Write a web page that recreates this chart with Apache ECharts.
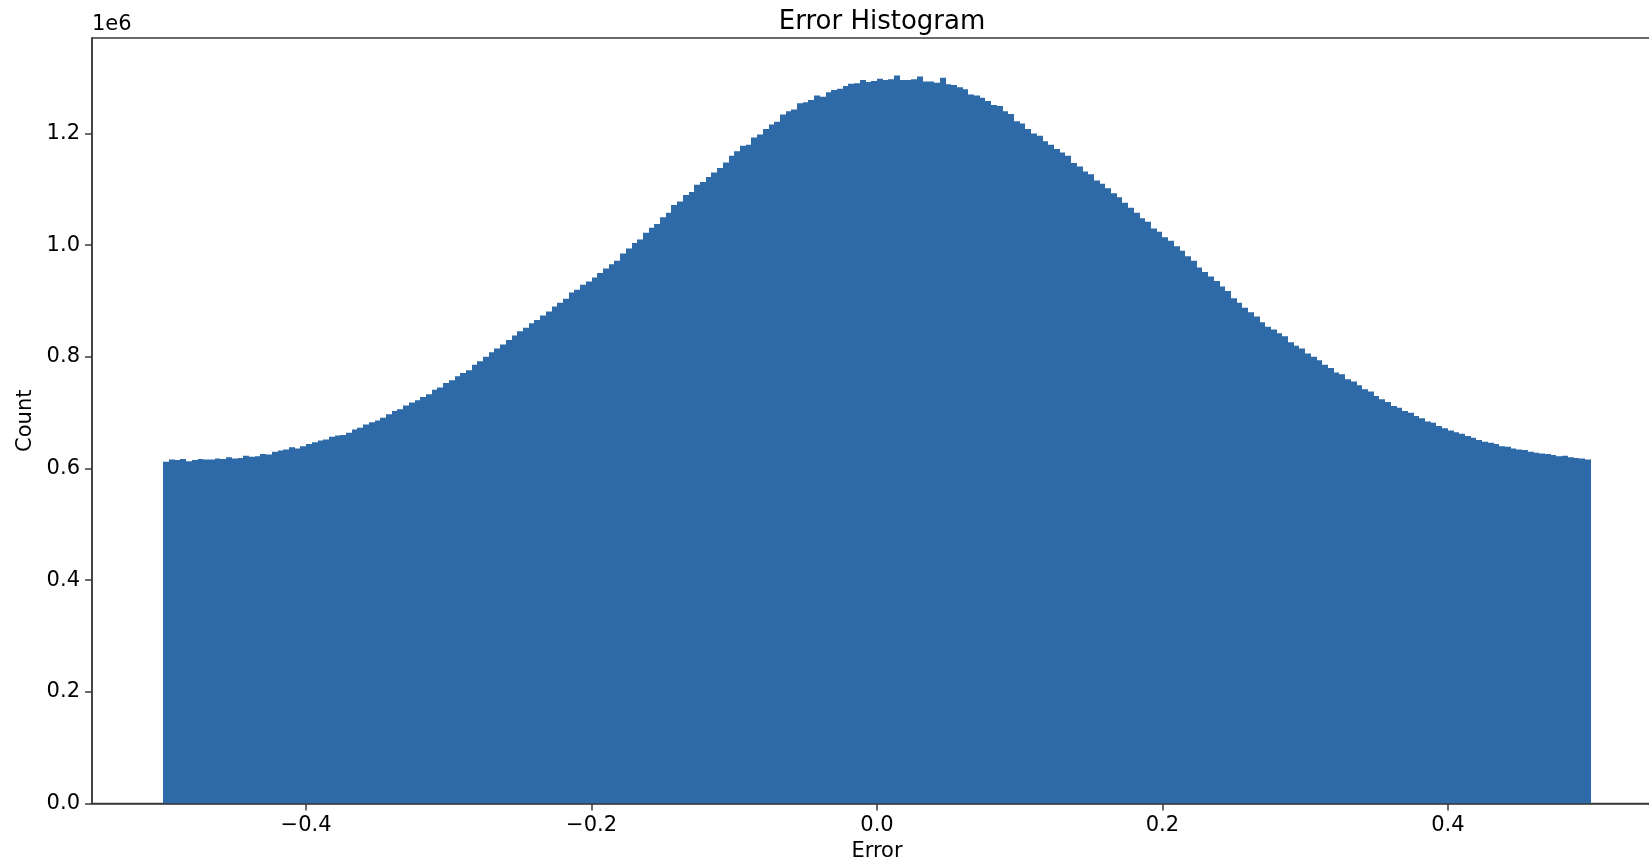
<!DOCTYPE html>
<html>
<head>
<meta charset="utf-8">
<title>Error Histogram</title>
<script src="https://cdn.jsdelivr.net/npm/echarts@6/dist/echarts.min.js"></script>
<style>
  html, body { margin: 0; padding: 0; background: #fff; }
  #chart { width: 1649px; height: 859px; }
</style>
</head>
<body>
<div id="chart"></div>
<script>
// 误差直方图 (counts in millions)
var binStart = -0.5;
var binWidth = 0.004;
var countMillions = [
  0.612, 0.616, 0.615, 0.617, 0.613, 0.615, 0.617, 0.616, 0.616, 0.618,
  0.617, 0.620, 0.618, 0.619, 0.623, 0.621, 0.622, 0.626, 0.625, 0.630,
  0.632, 0.634, 0.638, 0.636, 0.640, 0.644, 0.647, 0.650, 0.652, 0.657,
  0.659, 0.660, 0.664, 0.670, 0.673, 0.679, 0.683, 0.686, 0.691, 0.697,
  0.703, 0.706, 0.713, 0.718, 0.722, 0.728, 0.733, 0.741, 0.745, 0.753,
  0.758, 0.765, 0.771, 0.776, 0.786, 0.792, 0.800, 0.808, 0.815, 0.822,
  0.830, 0.838, 0.846, 0.852, 0.860, 0.866, 0.874, 0.881, 0.890, 0.897,
  0.904, 0.915, 0.920, 0.929, 0.935, 0.942, 0.950, 0.958, 0.966, 0.972,
  0.985, 0.994, 1.004, 1.010, 1.022, 1.031, 1.038, 1.050, 1.058, 1.072,
  1.078, 1.090, 1.095, 1.108, 1.113, 1.122, 1.130, 1.138, 1.148, 1.160,
  1.168, 1.178, 1.180, 1.193, 1.198, 1.208, 1.216, 1.221, 1.234, 1.240,
  1.243, 1.254, 1.256, 1.260, 1.268, 1.266, 1.274, 1.278, 1.280, 1.285,
  1.289, 1.290, 1.296, 1.292, 1.294, 1.298, 1.296, 1.297, 1.304, 1.296,
  1.296, 1.297, 1.302, 1.293, 1.293, 1.291, 1.300, 1.288, 1.287, 1.283,
  1.279, 1.270, 1.268, 1.264, 1.258, 1.251, 1.249, 1.240, 1.235, 1.222,
  1.218, 1.208, 1.200, 1.196, 1.186, 1.180, 1.172, 1.166, 1.160, 1.147,
  1.141, 1.132, 1.127, 1.116, 1.110, 1.102, 1.093, 1.086, 1.076, 1.067,
  1.058, 1.048, 1.042, 1.030, 1.024, 1.014, 1.008, 0.998, 0.990, 0.980,
  0.972, 0.960, 0.952, 0.944, 0.936, 0.926, 0.918, 0.905, 0.897, 0.888,
  0.880, 0.872, 0.862, 0.854, 0.849, 0.842, 0.837, 0.826, 0.820, 0.815,
  0.806, 0.800, 0.794, 0.786, 0.780, 0.772, 0.769, 0.760, 0.756, 0.749,
  0.742, 0.738, 0.730, 0.724, 0.719, 0.712, 0.709, 0.703, 0.700, 0.694,
  0.690, 0.684, 0.682, 0.676, 0.672, 0.668, 0.665, 0.662, 0.658, 0.655,
  0.651, 0.648, 0.646, 0.644, 0.640, 0.639, 0.636, 0.634, 0.633, 0.630,
  0.628, 0.627, 0.626, 0.624, 0.622, 0.623, 0.620, 0.619, 0.618, 0.616
];
var xTicks = [-0.4, -0.2, 0.0, 0.2, 0.4];
var yTicks = [0.0, 0.2, 0.4, 0.6, 0.8, 1.0, 1.2];

var barColor = '#2d6aa7';
var axisColor = '#3a3a3a';
var font = '"DejaVu Sans", sans-serif';

var binData = [];
for (var i = 0; i < countMillions.length; i++) {
    var lo = binStart + binWidth * i;
    binData.push([lo, lo + binWidth, countMillions[i]]);
}

var myChart = echarts.init(document.getElementById('chart'), null, {renderer: 'canvas'});

var option = {
    backgroundColor: '#fff',
    animation: false,
    textStyle: {fontFamily: font, color: '#000'},
    title: {
        text: 'Error Histogram',
        left: 877, top: 4, textAlign: 'center',
        textStyle: {fontFamily: font, fontSize: 26, fontWeight: 'normal', color: '#000'}
    },
    graphic: [{
        type: 'text', left: 92, top: 14,
        style: {text: '1e6', fontFamily: font, fontSize: 21, fill: '#000'}
    }],
    grid: {
        left: 92, top: 38, width: 1570, height: 765.5,
        outerBoundsMode: 'none', containLabel: false,
        show: true, borderColor: axisColor, borderWidth: 1.5, backgroundColor: 'transparent'
    },
    xAxis: {
        type: 'value', min: -0.55, max: 0.55,
        name: 'Error', nameLocation: 'middle', nameGap: 34,
        nameTextStyle: {fontFamily: font, fontSize: 21, color: '#000'},
        axisLine: {show: true, onZero: false, lineStyle: {color: axisColor, width: 1.5}},
        axisTick: {show: true, customValues: xTicks, length: 7, lineStyle: {color: axisColor, width: 1.5}},
        axisLabel: {
            customValues: xTicks, margin: 12, fontFamily: font, fontSize: 21, color: '#000',
            formatter: function (v) { return v.toFixed(1).replace('-', '\u2212'); }
        },
        splitLine: {show: false}
    },
    yAxis: {
        type: 'value', min: 0, max: 1.371,
        name: 'Count', nameLocation: 'middle', nameGap: 50, nameRotate: 90,
        nameTextStyle: {fontFamily: font, fontSize: 21, color: '#000'},
        axisLine: {show: true, onZero: false, lineStyle: {color: axisColor, width: 1.5}},
        axisTick: {show: true, customValues: yTicks, length: 7, lineStyle: {color: axisColor, width: 1.5}},
        axisLabel: {
            customValues: yTicks, margin: 12, fontFamily: font, fontSize: 21, color: '#000',
            formatter: function (v) { return v.toFixed(1); }
        },
        splitLine: {show: false}
    },
    series: [{
        type: 'custom',
        clip: true,
        renderItem: function (params, api) {
            var topLeft = api.coord([api.value(0), api.value(2)]);
            var bottomRight = api.coord([api.value(1), 0]);
            // snap horizontal edges to whole pixels so neighbouring bins join without seams
            var x0 = Math.round(topLeft[0]);
            var x1 = Math.round(bottomRight[0]);
            return {
                type: 'rect',
                shape: {
                    x: x0, y: topLeft[1],
                    width: x1 - x0,
                    height: bottomRight[1] - topLeft[1]
                },
                style: {fill: barColor}
            };
        },
        encode: {x: [0, 1], y: 2},
        data: binData
    }]
};

myChart.setOption(option);
</script>
</body>
</html>
